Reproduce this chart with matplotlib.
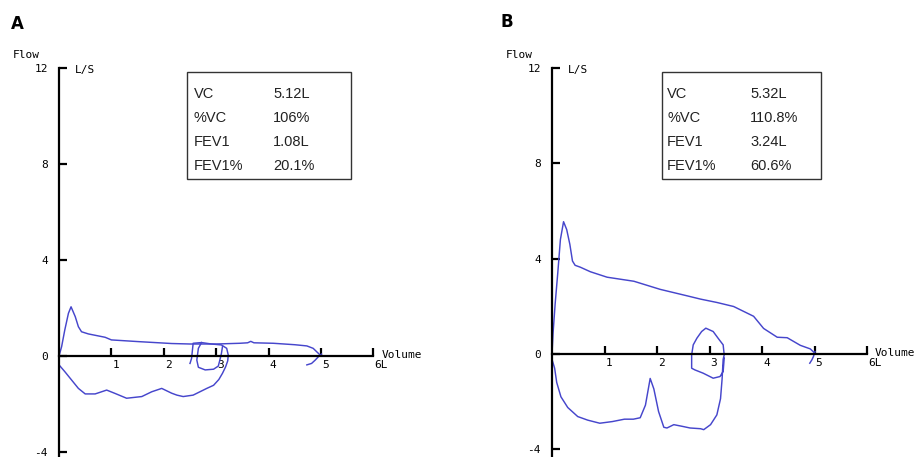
import matplotlib
matplotlib.use('Agg')
import matplotlib.pyplot as plt
from matplotlib.patches import Rectangle
from matplotlib.transforms import ScaledTranslation

# panel A - flow/volume loop
a_exp_vol = [0, 0.05, 0.11, 0.18, 0.23, 0.31, 0.37, 0.43, 0.56, 0.88, 1.0, 1.51, 2.15, 2.5, 3.0,
             3.45, 3.6, 3.66, 3.72, 4.09, 4.5, 4.73, 4.85, 4.95, 5.0]
a_exp_flow = [0, 0.39, 1.08, 1.78, 2.05, 1.64, 1.22, 1.01, 0.92, 0.78, 0.67, 0.60, 0.52, 0.50, 0.50,
              0.53, 0.55, 0.61, 0.55, 0.53, 0.47, 0.42, 0.32, 0.11, 0]
a_insp_vol = [0, 0.0, 0.11, 0.24, 0.37, 0.50, 0.69, 0.91, 1.07, 1.29, 1.58, 1.77, 1.96, 2.15, 2.25,
              2.37, 2.56, 2.69, 2.82, 2.95, 3.05, 3.12, 3.18, 3.22, 3.23, 3.20, 3.10, 2.91, 2.72,
              2.56, 2.53, 2.50]
a_insp_flow = [0, -0.37, -0.65, -1.0, -1.35, -1.58, -1.58, -1.42, -1.56, -1.76, -1.69, -1.49, -1.35,
               -1.55, -1.63, -1.69, -1.63, -1.49, -1.35, -1.22, -0.98, -0.72, -0.45, -0.2, 0.04,
               0.32, 0.46, 0.50, 0.56, 0.53, -0.10, -0.31]
a_loop_vol = [2.72, 2.66, 2.63, 2.66, 2.79, 2.95, 3.04, 3.07, 3.10, 3.12]
a_loop_flow = [0.56, 0.32, -0.17, -0.47, -0.58, -0.55, -0.42, -0.17, 0.11, 0.39]
a_hook_vol = [4.73, 4.82, 4.89, 4.95, 5.01]
a_hook_flow = [-0.37, -0.31, -0.17, -0.03, 0.08]

# panel B
b_exp_vol = [0, 0.02, 0.06, 0.11, 0.16, 0.22, 0.28, 0.34, 0.39, 0.44, 0.54, 0.73, 1.05, 1.56, 2.06,
             2.57, 2.83, 3.14, 3.46, 3.84, 4.03, 4.29, 4.48, 4.73, 4.92, 5.02]
b_exp_flow = [0, 0.86, 2.1, 3.4, 4.8, 5.55, 5.22, 4.6, 3.9, 3.72, 3.64, 3.45, 3.22, 3.05, 2.71,
              2.44, 2.30, 2.16, 1.99, 1.58, 1.07, 0.70, 0.68, 0.36, 0.21, 0]
b_insp_vol = [0, 0.0, 0.05, 0.09, 0.17, 0.30, 0.49, 0.68, 0.91, 1.15, 1.38, 1.55, 1.68, 1.78, 1.87,
              1.94, 2.03, 2.13, 2.19, 2.32, 2.48, 2.63, 2.83, 2.89, 3.02, 3.14, 3.21, 3.24, 3.26,
              3.28, 3.26, 3.17, 3.07, 2.93, 2.85, 2.76, 2.69, 2.66, 2.66, 2.72, 2.88, 3.07, 3.20,
              3.26, 3.28]
b_insp_flow = [0, -0.23, -0.6, -1.2, -1.8, -2.25, -2.63, -2.78, -2.91, -2.84, -2.74, -2.74, -2.68,
               -2.15, -1.03, -1.47, -2.42, -3.08, -3.11, -2.97, -3.04, -3.11, -3.14, -3.18, -2.97,
               -2.56, -1.88, -1.05, -0.23, -0.04, 0.38, 0.64, 0.94, 1.08, 0.94, 0.66, 0.38, -0.04,
               -0.60, -0.67, -0.81, -1.02, -0.95, -0.74, -0.18]
b_hook_vol = [4.91, 4.95, 4.98, 5.01]
b_hook_flow = [-0.39, -0.25, -0.11, 0.1]

y_ticks = [-4, 0, 4, 8, 12]
x_ticks = [1, 2, 3, 4, 5, 6]
x_labels = ['1', '2', '3', '4', '5', '6L']

box_keys = ['VC', '%VC', 'FEV1', 'FEV1%']
a_vals = ['5.12L', '106%', '1.08L', '20.1%']
b_vals = ['5.32L', '110.8%', '3.24L', '60.6%']

W, H = 916, 457
fig = plt.figure(figsize=(W / 100, H / 100), dpi=100)
blue = '#4646cc'
mono = 'DejaVu Sans Mono'


def setup(ax, xlim, ylim):
    ax.set_xlim(*xlim)
    ax.set_ylim(*ylim)
    ax.patch.set_alpha(0)
    for s in ['top', 'right']:
        ax.spines[s].set_visible(False)
    ax.spines['left'].set_position(('data', 0))
    ax.spines['bottom'].set_position(('data', 0))
    ax.spines['left'].set_bounds(ylim[0], 12)
    ax.spines['bottom'].set_bounds(0, 6)
    for s in ['left', 'bottom']:
        ax.spines[s].set_linewidth(1.6)
    ax.set_yticks(y_ticks)
    ax.set_yticklabels([str(t) for t in y_ticks], fontfamily=mono, fontsize=8)
    ax.set_xticks(x_ticks)
    ax.set_xticklabels(x_labels, fontfamily=mono, fontsize=8)
    ax.tick_params(axis='y', direction='in', length=6, width=1.6, pad=8)
    ax.tick_params(axis='x', direction='in', length=6, width=1.6, pad=3)
    off = ScaledTranslation(1 / 100, 0, fig.dpi_scale_trans)
    for lab in ax.get_xticklabels():
        lab.set_horizontalalignment('left')
        lab.set_transform(lab.get_transform() + off)
    ax.text(6.15, -0.08, 'Volume', fontfamily=mono, fontsize=8, va='baseline', ha='left')
    ax.text(0.3, 11.9, 'L/S', fontfamily=mono, fontsize=8, va='center', ha='left')
    ax.text(-0.88, 12.55, 'Flow', fontfamily=mono, fontsize=8, va='center', ha='left')


axA = fig.add_axes([0, 0, 458 / W, 1])
setup(axA, (-59 / 52.4, (458 - 59) / 52.4), (12 - (457 - 68) / 24, 12 + 68 / 24))
axA.plot(a_exp_vol, a_exp_flow, color=blue, lw=1.05)
axA.plot(a_insp_vol, a_insp_flow, color=blue, lw=1.05)
axA.plot(a_loop_vol, a_loop_flow, color=blue, lw=1.05)
axA.plot(a_hook_vol, a_hook_flow, color=blue, lw=1.05)

axB = fig.add_axes([458 / W, 0, 458 / W, 1])
setup(axB, (-94 / 52.5, (458 - 94) / 52.5), (-(457 - 354) / 23.8, 12 + 68 / 23.8))
axB.plot(b_exp_vol, b_exp_flow, color=blue, lw=1.05)
axB.plot(b_insp_vol, b_insp_flow, color=blue, lw=1.05)
axB.plot(b_hook_vol, b_hook_flow, color=blue, lw=1.05)

# panel letters
fig.text(11 / W, 1 - 24 / H, 'A', fontsize=12, fontweight='bold', va='center', ha='left')
fig.text(500 / W, 1 - 22 / H, 'B', fontsize=12, fontweight='bold', va='center', ha='left')


# result boxes
def result_box(left, right, key_x, val_x, vals):
    top, bottom = 72, 179
    fig.patches.append(Rectangle((left / W, 1 - bottom / H), (right - left) / W, (bottom - top) / H,
                                 transform=fig.transFigure, fill=False, edgecolor='#333333', lw=1))
    for i, (k, v) in enumerate(zip(box_keys, vals)):
        yy = 1 - (94 + 24 * i) / H
        fig.text(key_x / W, yy, k, fontsize=10.5, family='Liberation Sans', va='center', ha='left',
                 color='#222222')
        fig.text(val_x / W, yy, v, fontsize=10.5, family='Liberation Sans', va='center', ha='left',
                 color='#222222')


result_box(187, 351, 194, 273, a_vals)
result_box(662, 821, 667, 750, b_vals)

fig.savefig('out.png', dpi=100)
